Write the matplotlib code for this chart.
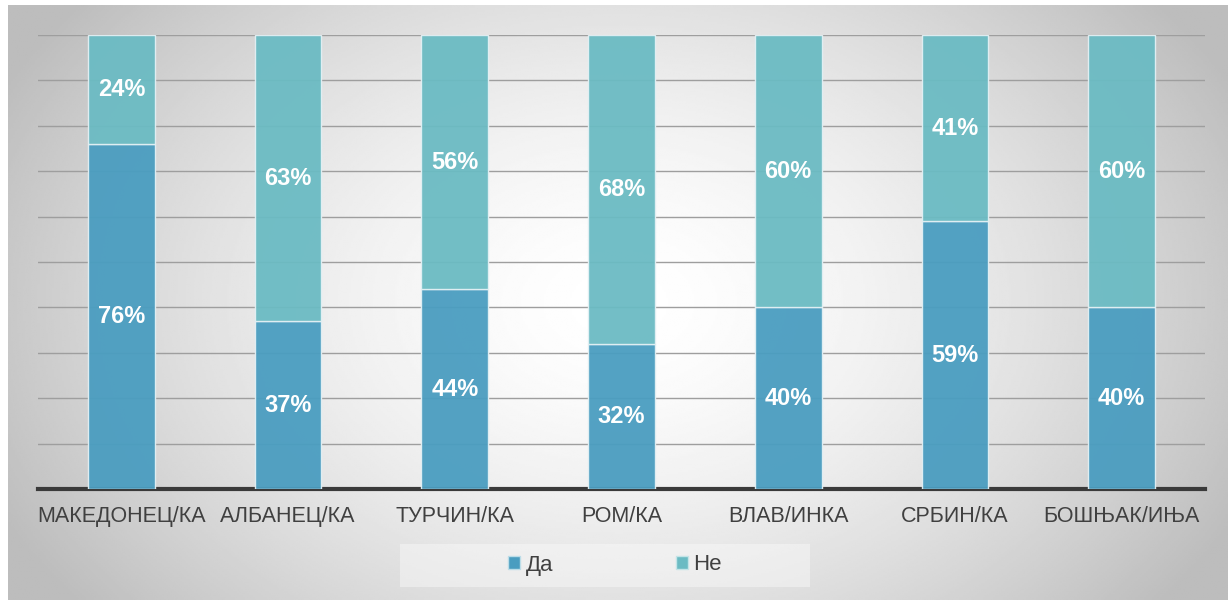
import numpy as np
import matplotlib.pyplot as plt
from matplotlib.patches import Patch

plt.rcParams['font.family'] = ['Liberation Sans', 'DejaVu Sans']

# data
categories = ['МАКЕДОНЕЦ/КА', 'АЛБАНЕЦ/КА', 'ТУРЧИН/КА', 'РОМ/КА', 'ВЛАВ/ИНКА', 'СРБИН/КА', 'БОШЊАК/ИЊА']
da = [76, 37, 44, 32, 40, 59, 40]
ne = [24, 63, 56, 68, 60, 41, 60]
series_names = ['Да', 'Не']

col_da = '#4a9dc0'
col_ne = '#6bbbc3'

W, H = 1228, 600
fig = plt.figure(figsize=(W / 100, H / 100), dpi=100)

# radial grey background panel
bg = fig.add_axes([8 / W, 0, 1 - 8 / W, 1 - 5 / H])
yy, xx = np.mgrid[0:300, 0:600]
cx, cy = 300, 150
r = np.sqrt(((xx - cx) / 330.0) ** 2 + ((yy - cy) / 240.0) ** 2)
shade = np.clip(1.0 - 0.25 * r ** 1.6, 0.74, 1.0)
bg.imshow(shade, cmap='gray', vmin=0, vmax=1, aspect='auto', interpolation='bilinear')
bg.axis('off')

# light band behind legend
band = fig.add_axes([400 / W, (600 - 587) / H, 410 / W, 43 / H])
band.set_facecolor('#fafafa')
band.patch.set_alpha(0.45)
band.set_xticks([])
band.set_yticks([])
for s in band.spines.values():
    s.set_visible(False)

ax = fig.add_axes([38 / W, (600 - 489) / H, (1205 - 38) / W, (489 - 35) / H])
ax.patch.set_alpha(0)
x = np.arange(len(categories))
w = 0.4
b1 = ax.bar(x, da, w, color=col_da, alpha=0.95, edgecolor='#e3f0f4', linewidth=1.0, zorder=3)
b2 = ax.bar(x, ne, w, bottom=da, color=col_ne, alpha=0.95, edgecolor='#e3f0f4', linewidth=1.0, zorder=3)

for i in range(len(categories)):
    ax.text(x[i], da[i] / 2, f'{da[i]}%', ha='center', va='center', color='white',
            fontsize=17, fontweight='bold', zorder=4)
    ax.text(x[i], da[i] + ne[i] / 2, f'{ne[i]}%', ha='center', va='center', color='white',
            fontsize=17, fontweight='bold', zorder=4)

ax.set_xlim(-0.5, len(categories) - 0.5)
ax.set_ylim(0, 100)
ax.set_yticks(np.arange(10, 101, 10))
ax.yaxis.grid(True, color='#9e9e9e', linewidth=1.0, zorder=1)
ax.tick_params(axis='y', length=0, labelleft=False)
ax.tick_params(axis='x', length=0, pad=12)
ax.set_xticks(x)
ax.set_xticklabels(categories, fontsize=15.5, color='#404040')
for s in ['top', 'right', 'left']:
    ax.spines[s].set_visible(False)
ax.spines['bottom'].set_color('#3a3a3a')
ax.spines['bottom'].set_linewidth(3)

handles = [Patch(facecolor=col_da, edgecolor='#bcdde8'), Patch(facecolor=col_ne, edgecolor='#c4e4e7')]
fig.legend(handles, series_names, loc='center', bbox_to_anchor=(615 / W, 1 - 565 / H), ncol=2,
           frameon=False, fontsize=16, labelcolor='#404040', handlelength=0.55, handleheight=0.55,
           handletextpad=0.25, columnspacing=5.5)

fig.savefig('out.png', dpi=100)
